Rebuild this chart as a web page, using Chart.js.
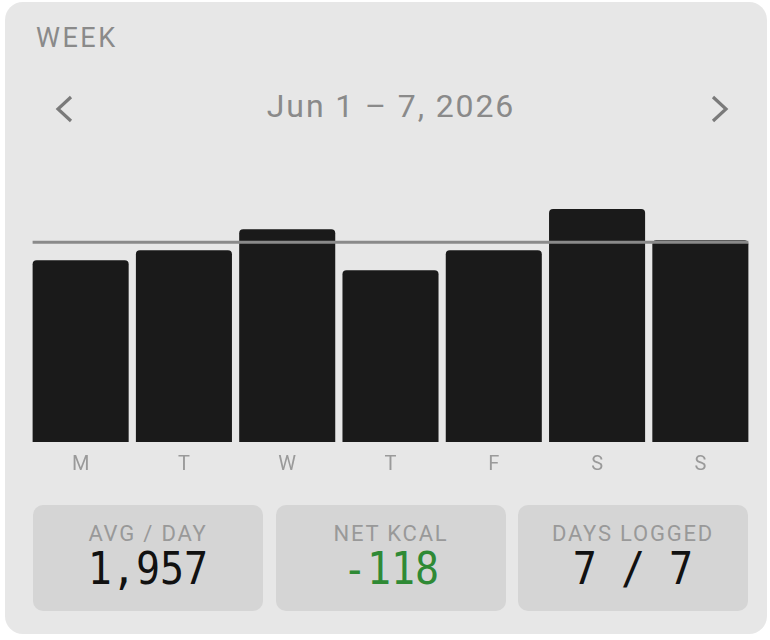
<!DOCTYPE html>
<html>
<head>
<meta charset="utf-8">
<script src="https://cdn.jsdelivr.net/npm/chart.js@4"></script>
<style>
  html, body { margin: 0; padding: 0; background: #ffffff; width: 770px; height: 640px; overflow: hidden; }
  body { font-family: Roboto, "Noto Sans", sans-serif; }
  .panel { position: absolute; left: 5px; top: 2px; width: 762px; height: 632px; background: #e7e7e7; border-radius: 18px; }
  .week { position: absolute; left: 36px; top: 22px; font-size: 27px; letter-spacing: 2.5px; color: #8a8a8a; }
  .range { position: absolute; left: 0; width: 782px; top: 87px; text-align: center; font-size: 32px; letter-spacing: 1.9px; color: #8a8a8a; }
  .nav { position: absolute; top: 94px; }
  .chart-box { position: absolute; left: 29px; top: 150px; width: 723px; height: 338px; }
  .card { position: absolute; top: 505px; width: 230px; height: 106px; background: #d5d5d5; border-radius: 10px; text-align: center; }
  .card .lbl { margin-top: 16px; font-size: 22px; letter-spacing: 1.8px; color: #999999; }
  .card .val { display: inline-block; margin-top: 0px; font-family: "DejaVu Sans Mono", monospace; font-size: 40px; color: #111111; transform: scaleY(1.1); }
  .card .val.neg { color: #2f8a35; }
</style>
</head>
<body>
<div class="panel"></div>
<div class="week">WEEK</div>
<svg class="nav" style="left:52px" width="24" height="30"><polyline points="19,3 6,15 19,27" fill="none" stroke="#7a7a7a" stroke-width="3.2"/></svg>
<div class="range">Jun 1 – 7, 2026</div>
<svg class="nav" style="left:708px" width="24" height="30"><polyline points="5,3 18,15 5,27" fill="none" stroke="#7a7a7a" stroke-width="3.2"/></svg>
<div class="chart-box"><canvas id="week-chart"></canvas></div>

<div class="card" style="left:33px"><div class="lbl">AVG / DAY</div><div class="val" id="avg-val"></div></div>
<div class="card" style="left:276px"><div class="lbl">NET KCAL</div><div class="val neg" id="net-val"></div></div>
<div class="card" style="left:518px"><div class="lbl">DAYS LOGGED</div><div class="val" id="days-val"></div></div>

<script>
const days = ['M', 'T', 'W', 'T', 'F', 'S', 'S'];
const kcal = [1780, 1878, 2085, 1682, 1878, 2282, 1977];
const avgPerDay = 1957;
const netKcal = -118;
const daysLogged = [7, 7];

document.querySelector('#avg-val').innerText = avgPerDay.toLocaleString('en-US');
document.querySelector('#net-val').innerText = String(netKcal);
document.querySelector('#days-val').innerText = daysLogged[0] + ' / ' + daysLogged[1];

// horizontal average line, from first bar's left edge to last bar's right edge
const avgLine = {
  id: 'avgLine',
  afterDatasetsDraw(chart) {
    const { ctx, scales } = chart;
    const bars = chart.getDatasetMeta(0).data;
    const first = bars[0], last = bars[bars.length - 1];
    const y = scales.y.getPixelForValue(avgPerDay);
    ctx.save();
    ctx.strokeStyle = '#8a8a8a';
    ctx.lineWidth = 3;
    ctx.beginPath();
    ctx.moveTo(first.x - first.width / 2, y);
    ctx.lineTo(last.x + last.width / 2, y);
    ctx.stroke();
    ctx.restore();
  }
};

const data = {
  labels: days,
  datasets: [{
    data: kcal,
    backgroundColor: '#1a1a1a',
    borderRadius: { topLeft: 4, topRight: 4, bottomLeft: 0, bottomRight: 0 },
    borderSkipped: false,
    barPercentage: 0.93,
    categoryPercentage: 1
  }]
};

const config = {
  type: 'bar',
  data: data,
  options: {
    responsive: true,
    maintainAspectRatio: false,
    animation: false,
    layout: { padding: 0 },
    plugins: { legend: { display: false }, tooltip: { enabled: false } },
    scales: {
      x: {
        grid: { display: false, drawTicks: false },
        border: { display: false },
        ticks: { color: '#9a9a9a', padding: 11, font: { family: 'Roboto', size: 20 } }
      },
      y: {
        display: false,
        min: 0,
        max: 2860
      }
    }
  },
  plugins: [avgLine]
};

new Chart(document.getElementById('week-chart'), config);
</script>
</body>
</html>
